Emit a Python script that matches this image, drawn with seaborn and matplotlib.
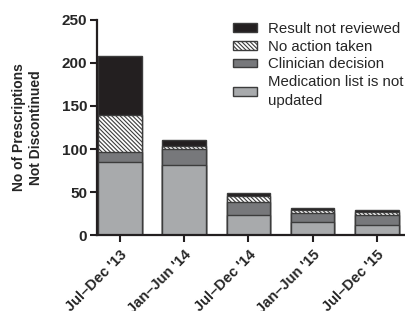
import numpy as np
import pandas as pd
import matplotlib
matplotlib.use("Agg")
import matplotlib.pyplot as plt
import seaborn as sns
from matplotlib.patches import Patch

# Data
periods = ["Jul\u2013Dec '13", "Jan\u2013Jun '14", "Jul\u2013Dec '14", "Jan\u2013Jun '15", "Jul\u2013Dec '15"]
med_list = [85, 81, 23, 15, 12]
clinician = [12, 19, 15, 11, 11]
no_action = [43, 4, 8, 3, 4]
not_reviewed = [68, 6, 3, 2, 2]

layers = ["Medication list is not\nupdated", "Clinician decision", "No action taken", "Result not reviewed"]
values = [med_list, clinician, no_action, not_reviewed]
colors = ["#a8aaac", "#77787b", "white", "#231f20"]
hatches = [None, None, "\\" * 8, None]
edge = "#3c3c3c"

sns.set_style("ticks")
plt.rcParams['font.family'] = ['Liberation Sans', 'DejaVu Sans']
plt.rcParams['hatch.linewidth'] = 0.8

fig = plt.figure(figsize=(4.06, 3.11), dpi=100)
ax = fig.add_axes([0.239, 0.244, 0.76, 0.692])

# stacked bars: draw cumulative totals from top layer down
cum = np.cumsum(np.array(values), axis=0)
for i in range(len(layers) - 1, -1, -1):
    df = pd.DataFrame({"period": periods, "value": cum[i]})
    n_before = len(ax.patches)
    sns.barplot(data=df, x="period", y="value", color=colors[i], saturation=1,
                width=0.68, edgecolor=edge, linewidth=1, ax=ax)
    if hatches[i]:
        for p in ax.patches[n_before:]:
            p.set_hatch(hatches[i])

ax.set_xlim(-0.36, 4.45)
ax.set_ylim(0, 250)
ax.set_yticks([0, 50, 100, 150, 200, 250])
ax.set_xlabel("")
ax.set_ylabel("No of Prescriptions\nNot Discontinued", fontsize=10, fontweight="bold", linespacing=1.3)
ax.yaxis.set_label_coords(-0.175, 0.5)
ax.set_xticks(range(len(periods)))
ax.set_xticklabels(periods, rotation=45, ha="right", rotation_mode="anchor", fontsize=10.5, fontweight="bold")
for lab in ax.get_yticklabels():
    lab.set_fontweight("bold")
    lab.set_fontsize(11)
ax.tick_params(axis="both", length=5, width=1.5, color="#231f20")
ax.tick_params(axis="x", pad=4)
ax.tick_params(axis="y", pad=2)
for s in ["left", "bottom"]:
    ax.spines[s].set_linewidth(1.6)
    ax.spines[s].set_color("#231f20")
sns.despine(ax=ax)

handles = [Patch(facecolor=colors[i], edgecolor=edge, hatch=hatches[i], label=layers[i])
           for i in range(len(layers) - 1, -1, -1)]
leg = ax.legend(handles=handles, loc="upper left", bbox_to_anchor=(233 / 406, 1 - 22 / 311),
                bbox_transform=fig.transFigure, frameon=False, fontsize=10.8,
                handlelength=1.6, handleheight=0.5, labelspacing=0.25, handletextpad=0.75,
                borderaxespad=0, borderpad=0)
for t in leg.get_texts():
    t.set_linespacing(1.4)

fig.savefig("out.png", dpi=100)
